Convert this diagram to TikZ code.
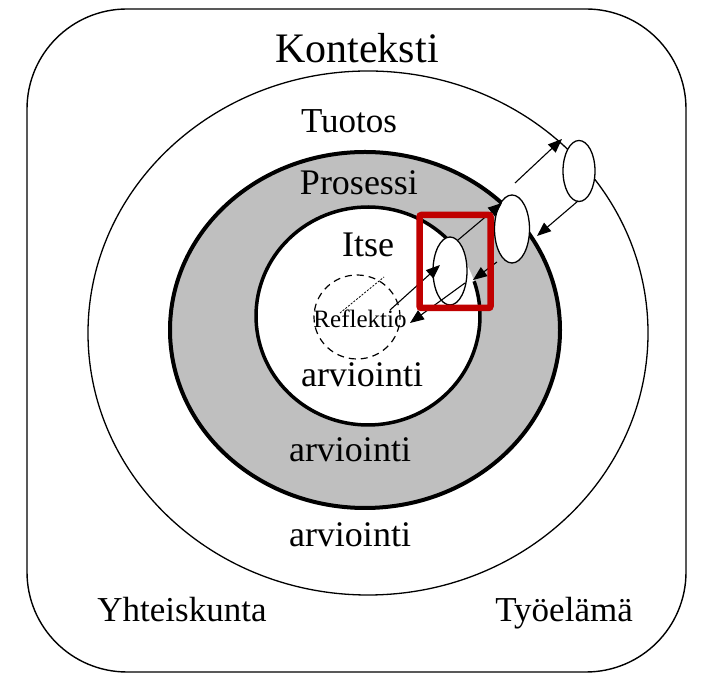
\documentclass[tikz,border=0pt]{standalone}
\usepackage{fontspec}
\setmainfont{Liberation Serif}
\usetikzlibrary{arrows.meta,shapes.geometric}
\definecolor{ringgray}{RGB}{191,191,191}
\definecolor{markred}{RGB}{192,0,0}
\tikzset{
  lbl/.style={anchor=base, inner sep=0pt, font=\fontsize{35}{40}\selectfont},
  tube/.style={draw, ellipse, fill=white, line width=1.3pt, inner sep=0pt},
  arr/.style={-{Triangle[length=14pt,width=11pt]}, line width=1.1pt},
  thinline/.style={line width=1.3pt},
  markbox/.style={draw=markred, line width=6.5pt, rounded corners=2pt},
}
\begin{document}
\begin{tikzpicture}[x=1pt,y=1pt]
\useasboundingbox (0,0) rectangle (701,679);
% context frame
\draw[line width=1.4pt, rounded corners=100pt] (27,7) rectangle (686,670);
% outer (Tuotos) ring
\draw[thinline] (368,346) ellipse [x radius=280, y radius=262];
% gray (Prosessi) ring
\draw[line width=4pt, fill=ringgray] (365,349) ellipse [x radius=195, y radius=178];
% inner (Itse) area
\fill[white] (368,363) ellipse [x radius=112, y radius=109];
\draw[line width=3.5pt] ([shift={(44.7:112 and 109)}]368,363)
  arc[start angle=44.7, end angle=378.6, x radius=112, y radius=109];
% reflection circle
\draw[line width=1.2pt, dash pattern=on 7pt off 5pt] (357,362) ellipse [x radius=43, y radius=42];
% tube ellipses
\node[tube, minimum width=34pt, minimum height=68pt] (e1) at (450,408) {};
\node[tube, minimum width=35pt, minimum height=68pt] (e2) at (512,450) {};
\node[tube, minimum width=32pt, minimum height=61pt] (e3) at (579,508) {};
% connector end points
\coordinate (d1) at (340,366);
\coordinate (d2) at (384,402);
\coordinate (a2s) at (390,369);
\coordinate (a2e) at (440,414);
\coordinate (a3s) at (458,439);
\coordinate (a3e) at (502,476);
\coordinate (a4s) at (515,496);
\coordinate (a4e) at (562,540);
\coordinate (a5s) at (578,478);
\coordinate (a5e) at (537,443);
\coordinate (a6s) at (497,417);
\coordinate (a6e) at (473,399);
\coordinate (a7s) at (465,396);
\coordinate (a7e) at (410,356);
% connectors
\draw[line width=0.8pt, dash pattern=on 2pt off 1.5pt] (d1) -- (d2);
\draw[arr] (a2s) -- (a2e);
\draw[arr] (a3s) -- (a3e);
\draw[arr] (a4s) -- (a4e);
\draw[arr] (a5s) -- (a5e);
\draw[arr] (a6s) -- (a6e);
\draw[arr] (a7s) -- (a7e);
% labels
\node[lbl, font=\fontsize{42}{46}\selectfont] (t0) at (357,616) {Konteksti};
\node[lbl] (t1) at (349,546) {Tuotos};
\node[lbl, font=\fontsize{36}{40}\selectfont] (t2) at (359,484) {Prosessi};
\node[lbl, font=\fontsize{36}{40}\selectfont] (t3) at (368,422) {Itse};
\node[lbl, font=\fontsize{25}{28}\selectfont] (t4) at (360,351) {Reflektio};
\node[lbl, font=\fontsize{36}{40}\selectfont] (t5) at (362,292) {arviointi};
\node[lbl, font=\fontsize{36}{40}\selectfont] (t6) at (350,217) {arviointi};
\node[lbl, font=\fontsize{36}{40}\selectfont] (t7) at (350,132) {arviointi};
\node[lbl] (t8) at (182,57) {Yhteiskunta};
\node[lbl] (t9) at (564,57) {Työelämä};
% highlight box
\draw[markbox] (419.5,371) rectangle (490.5,464);
\end{tikzpicture}
\end{document}
